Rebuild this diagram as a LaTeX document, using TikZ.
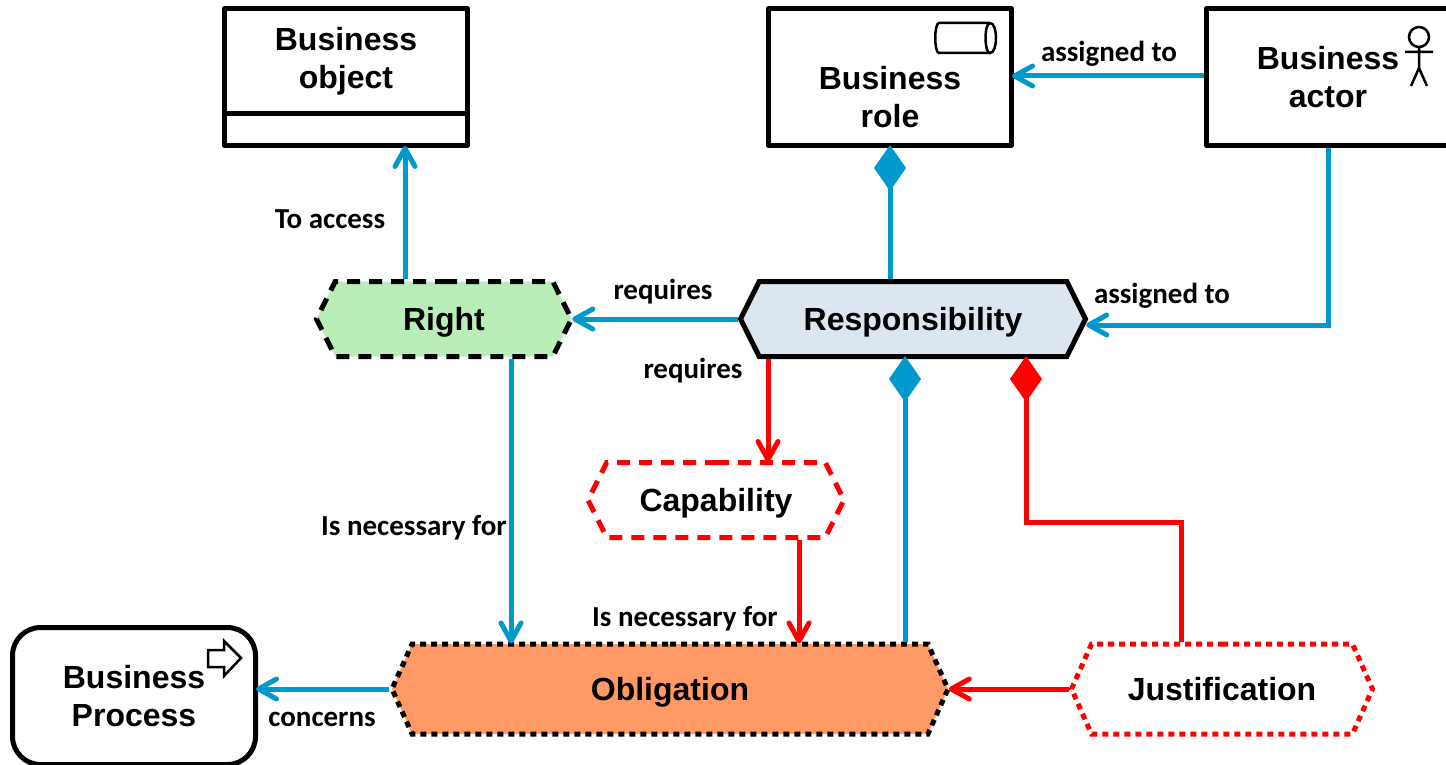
\documentclass[tikz,border=0pt]{standalone}
\usepackage{fontspec}
\setmainfont{Liberation Sans}
\newfontfamily\labelfont{Carlito}
\usetikzlibrary{arrows.meta,shapes.symbols}
\definecolor{linkblue}{RGB}{0,153,204}
\definecolor{linkred}{RGB}{255,0,0}
\definecolor{rightgreen}{RGB}{185,238,185}
\definecolor{respblue}{RGB}{220,230,241}
\definecolor{oblorange}{RGB}{255,153,102}
\tikzset{
  box/.style={draw,line width=5pt,line join=round,minimum width=243pt,minimum height=137pt,inner sep=0pt,
    align=center,font=\fontsize{32}{38.5}\selectfont\bfseries},
  hexa/.style={draw,line width=5pt,signal,signal to=east and west,signal pointer angle=127,inner sep=0pt,
    text height=22pt,text depth=0pt,font=\fontsize{32}{38}\selectfont\bfseries},
  dashline/.style={dash pattern=on 13pt off 9pt},
  dotline/.style={dash pattern=on 6pt off 5pt},
  lbl/.style={inner sep=0pt,font=\fontsize{29}{34}\labelfont\bfseries},
  blueline/.style={draw=linkblue,line width=5pt},
  redline/.style={draw=linkred,line width=5pt},
  barb/.style={-{Straight Barb[length=18pt,width=20pt,round]},shorten >=-2pt},
  bluediamond/.style={blueline,{Diamond[length=46pt,width=32pt,fill=linkblue]}-,shorten <=-3pt},
  reddiamond/.style={redline,{Diamond[length=46pt,width=32pt,fill=linkred]}-,shorten <=-3pt},
  icon/.style={draw,line width=2.5pt}
}
\begin{document}
\begin{tikzpicture}[x=1pt,y=-1pt]
  \useasboundingbox (0,0) rectangle (1446,765);
  % boxes
  \node[box] (bobject) at (346,77) {Business\\object\\\mbox{}};
  \node[box] (brole) at (890,77) {\strut\\[-2pt]Business\\role};
  \node[box] (bactor) at (1328,77) {Business\\actor};
  \node[box,rounded corners=28pt] (bprocess) at (134,696) {Business\\Process};
  \draw[line width=5pt] ([yshift=-37pt]bobject.west) -- ([yshift=-37pt]bobject.east);
  % hexagons
  \node[hexa,dashline,fill=rightgreen,minimum width=255pt,minimum height=75pt] (right) at (444,319) {Right};
  \node[hexa,fill=respblue,minimum width=345pt,minimum height=75pt] (resp) at (913,319) {Responsibility};
  \node[hexa,dashline,draw=linkred,minimum width=256pt,minimum height=75pt] (capability) at (716,500) {Capability};
  \node[hexa,dotline,fill=oblorange,signal pointer angle=132,minimum width=556pt,minimum height=90pt] (obligation) at (670,689) {Obligation};
  \node[hexa,dotline,draw=linkred,signal pointer angle=132,minimum width=301pt,minimum height=90pt] (justification) at (1222,689) {Justification};
  % icons
  \draw[icon,rounded corners=3pt] (990,23) -- (942,23) .. controls (934,23) and (934,53) .. (942,53) -- (990,53);
  \draw[icon] (990,23) .. controls (984,23) and (984,53) .. (990,53) .. controls (998,53) and (998,23) .. (990,23);
  \draw[icon] (1419,37) circle (10);
  \draw[icon] (1419,47) -- (1419,68) (1405,52) -- (1433,52) (1411,86) -- (1419,68) -- (1427,86);
  \draw[icon] (208,650) -- (224,650) -- (224,641) -- (241,658) -- (224,676) -- (224,667) -- (208,667) -- cycle;
  % links
  \draw[blueline,barb] ([xshift=-39pt]right.north) -- ([xshift=-39pt]right.north |- bobject.south);
  \draw[blueline,barb] (resp.west) -- (right.east);
  \draw[bluediamond] ([xshift=-23pt]resp.north |- brole.south) -- ([xshift=-23pt]resp.north);
  \draw[blueline,barb] ([yshift=1pt]bactor.west) -- ([yshift=1pt]brole.east);
  \coordinate (actorbend) at (1328,325);
  \draw[blueline,barb] (bactor.south) -- (actorbend) -- ([yshift=-6pt]resp.east);
  \draw[blueline,barb] ([xshift=67pt]right.south) -- ([xshift=67pt]right.south |- obligation.north);
  \draw[redline,barb] ([xshift=-145pt]resp.south) -- ([xshift=-145pt]resp.south |- capability.north);
  \draw[redline,barb] ([xshift=83pt]capability.south) -- ([xshift=83pt]capability.south |- obligation.north);
  \draw[bluediamond] ([xshift=-8pt]resp.south) -- ([xshift=-8pt]resp.south |- obligation.north);
  \coordinate (justleft) at (1026,522);
  \coordinate (justright) at (1181,522);
  \draw[reddiamond] ([xshift=113pt]resp.south) -- (justleft) -- (justright) -- ([xshift=-41pt]justification.north);
  \draw[redline,barb] (justification.west) -- (obligation.east);
  \draw[blueline,barb] (obligation.west) -- (bprocess.east |- obligation.west);
  % link labels
  \node[lbl] (toaccess) at (330,219) {To access};
  \node[lbl] (reqright) at (663,292) {requires};
  \node[lbl] (assignrole) at (1109,54) {assigned to};
  \node[lbl] (assignresp) at (1162,296) {assigned to};
  \node[lbl] (reqcap) at (693,371) {requires};
  \node[lbl] (needright) at (414,528) {Is necessary for};
  \node[lbl] (needcap) at (685,619) {Is necessary for};
  \node[lbl] (concerns) at (322,719) {concerns};
\end{tikzpicture}
\end{document}
